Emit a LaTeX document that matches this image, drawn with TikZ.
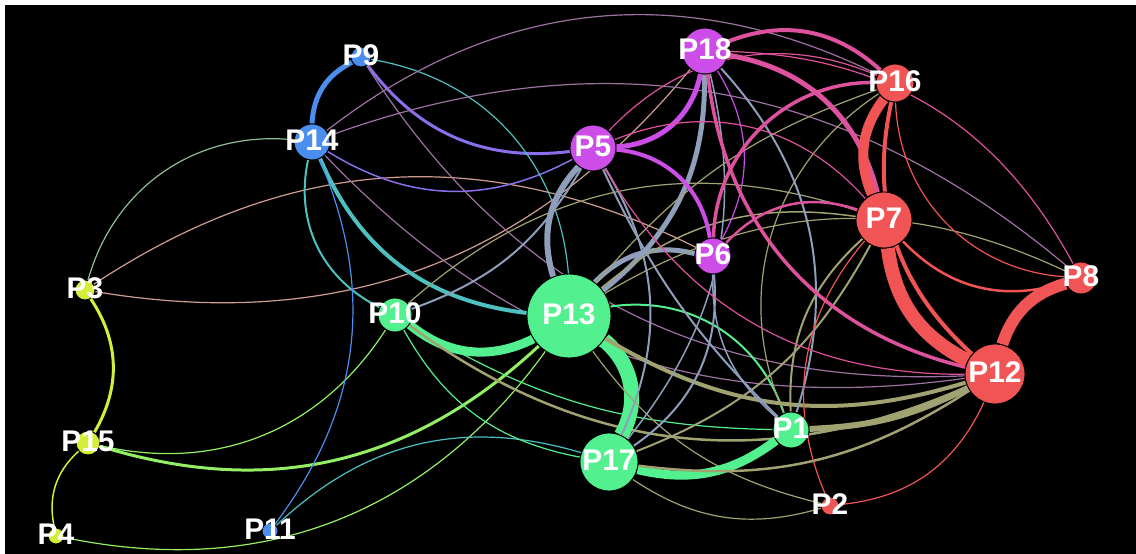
\documentclass[tikz,border=0pt]{standalone}
\usepackage{fontspec}
\newfontfamily\lblfont{Liberation Sans}
\definecolor{grn}{RGB}{82,240,143}
\definecolor{rd}{RGB}{240,84,84}
\definecolor{prp}{RGB}{204,77,232}
\definecolor{blu}{RGB}{74,143,240}
\definecolor{ylw}{RGB}{212,238,58}
\pgfdeclarelayer{bg}
\pgfdeclarelayer{edges}
\pgfsetlayers{bg,edges,main}
\tikzset{
  pn/.style={circle,draw=black,line width=0.5pt,inner sep=0pt,minimum size=#1*0.04cm},
  lbl/.style={text=white,inner sep=0pt,yshift=0.04cm,font=\lblfont\bfseries\fontsize{17}{17}\selectfont},
  lw/.style={line width=#1*0.02cm},
}
\begin{document}
\begin{tikzpicture}[x=0.02cm,y=0.02cm]
\useasboundingbox (0,0) rectangle (1136,554);
\begin{pgfonlayer}{bg}
\fill[white] (0,0) rectangle (1136,554);
\fill[black] (5,0) rectangle (1136,549);
\end{pgfonlayer}
%nodes
\node[pn=18,fill=grn] (p1) at (791,124) {};
\node[pn=9,fill=rd] (p2) at (830,48) {};
\node[pn=10,fill=ylw] (p3) at (85,264) {};
\node[pn=8,fill=ylw] (p4) at (56,18) {};
\node[pn=23,fill=prp] (p5) at (593,406) {};
\node[pn=18,fill=prp] (p6) at (713,298) {};
\node[pn=28,fill=rd] (p7) at (884,334) {};
\node[pn=16,fill=rd] (p8) at (1081,276) {};
\node[pn=10,fill=blu] (p9) at (361,497) {};
\node[pn=17,fill=grn] (p10) at (395,239) {};
\node[pn=8,fill=blu] (p11) at (270,23) {};
\node[pn=30,fill=rd] (p12) at (995,180) {};
\node[pn=42,fill=grn] (p13) at (569,238) {};
\node[pn=18,fill=blu] (p14) at (312,412) {};
\node[pn=12,fill=ylw] (p15) at (88,111) {};
\node[pn=19,fill=rd] (p16) at (895,471) {};
\node[pn=29,fill=grn] (p17) at (609,92) {};
\node[pn=23,fill=prp] (p18) at (705,503) {};
\foreach \n in {1,...,18}
  \node[lbl] (t\n) at (p\n) {P\n};
%edges
\begin{pgfonlayer}{edges}
%yellow group
\draw[ylw,lw=3] (p3) to[bend left=32] (p15);
\draw[ylw,lw=1.5] (p15) to[bend right=30] (p4);
\draw[ylw!50!blu,lw=1.2] (p3) to[bend left=40] (p14);
\draw[ylw!50!prp,lw=1.2] (p3) to[bend left=30] (p6);
\draw[ylw!50!prp,lw=1.2] (p3) to[bend right=30] (p18);
\draw[ylw!50!grn,lw=3] (p15) to[bend right=30] (p13);
\draw[ylw!50!grn,lw=1.2] (p15) to[bend right=35] (p10);
\draw[ylw!50!grn,lw=1.2] (p4) to[bend right=33] (p13);
%blue group
\draw[blu,lw=5] (p9) to[bend right=30] (p14);
\draw[blu!50!prp,lw=3] (p9) to[bend right=30] (p5);
\draw[blu!50!prp,lw=1.5] (p14) to[bend right=30] (p5);
\draw[blu!50!grn,lw=1.2] (p9) to[bend left=38] (p13);
\draw[blu!50!rd,lw=1.2] (p9) to[bend right=30] (p12);
\draw[blu!50!rd,lw=1.2] (p14) to[bend right=27] (p12);
\draw[blu!50!rd,lw=1.2] (p14) to[bend left=32] (p16);
\draw[blu!50!rd,lw=1.2] (p14) to[bend left=30] (p8);
\draw[blu!50!grn,lw=4] (p14) to[bend right=30] (p13);
\draw[blu!50!grn,lw=2] (p14) to[bend right=38] (p10);
\draw[blu,lw=1.2] (p14) to[bend left=30] (p11);
\draw[blu!50!grn,lw=1.2] (p11) to[bend left=30] (p17);
%green group
\draw[grn!50!prp,lw=2] (p10) to[bend right=20] (p5);
\draw[grn,lw=9] (p10) to[bend right=33] (p13);
\draw[grn,lw=1.2] (p10) to[bend right=25] (p17);
\draw[grn,lw=1.2] (p10) to[bend right=15] (p1);
\draw[grn!50!rd,lw=2.5] (p10) to[bend right=30] (p12);
\draw[grn!50!rd,lw=1.2] (p10) to[bend left=30] (p7);
\draw[grn!50!prp,lw=6] (p13) to[bend left=30] (p5);
\draw[grn!50!prp,lw=5] (p13) to[bend right=26] (p18);
\draw[grn!50!prp,lw=5] (p13) to[bend left=30] (p6);
\draw[grn,lw=15] (p13) to[bend left=40] (p17);
\draw[grn,lw=2] (p13) to[bend left=40] (p1);
\draw[grn!50!rd,lw=4] (p13) to[bend right=24] (p12);
\draw[grn!50!rd,lw=1.2] (p13) to[bend right=20] (p2);
\draw[grn!50!rd,lw=1.2] (p13) to[bend left=15] (p16);
\draw[grn!50!rd,lw=1.5] (p13) to[bend left=24] (p7);
\draw[grn!50!rd,lw=1.2] (p13) to[bend left=28] (p8);
\draw[grn,lw=9] (p17) to[bend right=25] (p1);
\draw[grn!50!rd,lw=2.5] (p17) to[bend right=20] (p12);
\draw[grn!50!rd,lw=1.2] (p17) to[bend right=25] (p2);
\draw[grn!50!rd,lw=2] (p17) to[bend right=20] (p7);
\draw[grn!50!rd,lw=6] (p1) to[bend right=12] (p12);
\draw[grn!50!rd,lw=2] (p1) to[bend left=25] (p7);
\draw[grn!50!rd,lw=1.2] (p1) to[bend left=40] (p16);
\draw[grn!50!prp,lw=2] (p5) to[bend left=28] (p17);
\draw[grn!50!prp,lw=2] (p5) to[bend right=10] (p1);
\draw[grn!50!prp,lw=2] (p18) to[bend left=30] (p1);
\draw[grn!50!prp,lw=1.5] (p18) to[bend left=26] (p17);
\draw[grn!50!prp,lw=2] (p6) to[bend left=30] (p17);
\draw[grn!50!prp,lw=1.5] (p6) to[bend right=25] (p1);
%purple group
\draw[prp,lw=4] (p5) to[bend left=38] (p6);
\draw[prp,lw=5] (p5) to[bend right=38] (p18);
\draw[prp,lw=1.2] (p6) to[bend right=30] (p18);
\draw[prp!50!rd,lw=4] (p18) to[bend left=32] (p16);
\draw[prp!50!rd,lw=1.2] (p18) to[bend left=30] (p8);
\draw[prp!50!rd,lw=5] (p18) to[bend left=33] (p7);
\draw[prp!50!rd,lw=3.5] (p18) to[bend right=35] (p12);
\draw[prp!50!rd,lw=3.5] (p6) to[bend left=45] (p16);
\draw[prp!50!rd,lw=2.5] (p6) to[bend left=33] (p7);
\draw[prp!50!rd,lw=1.2] (p5) to[bend left=35] (p7);
\draw[prp!50!rd,lw=1.2] (p5) to[bend left=35] (p16);
\draw[prp!50!rd,lw=1.2] (p5) to[bend right=30] (p12);
%red group
\draw[rd,lw=1.2] (p7) to[bend right=32] (p2);
\draw[rd,lw=1.2] (p2) to[bend right=30] (p12);
\draw[rd,lw=10] (p16) to[bend right=30] (p7);
\draw[rd,lw=4] (p16) to[bend right=30] (p12);
\draw[rd,lw=14] (p7) to[bend right=28] (p12);
\draw[rd,lw=2.5] (p7) to[bend right=32] (p8);
\draw[rd,lw=12] (p8) to[bend right=28] (p12);
\draw[rd,lw=1.2] (p16) to[bend right=42] (p8);
\end{pgfonlayer}
\end{tikzpicture}
\end{document}
